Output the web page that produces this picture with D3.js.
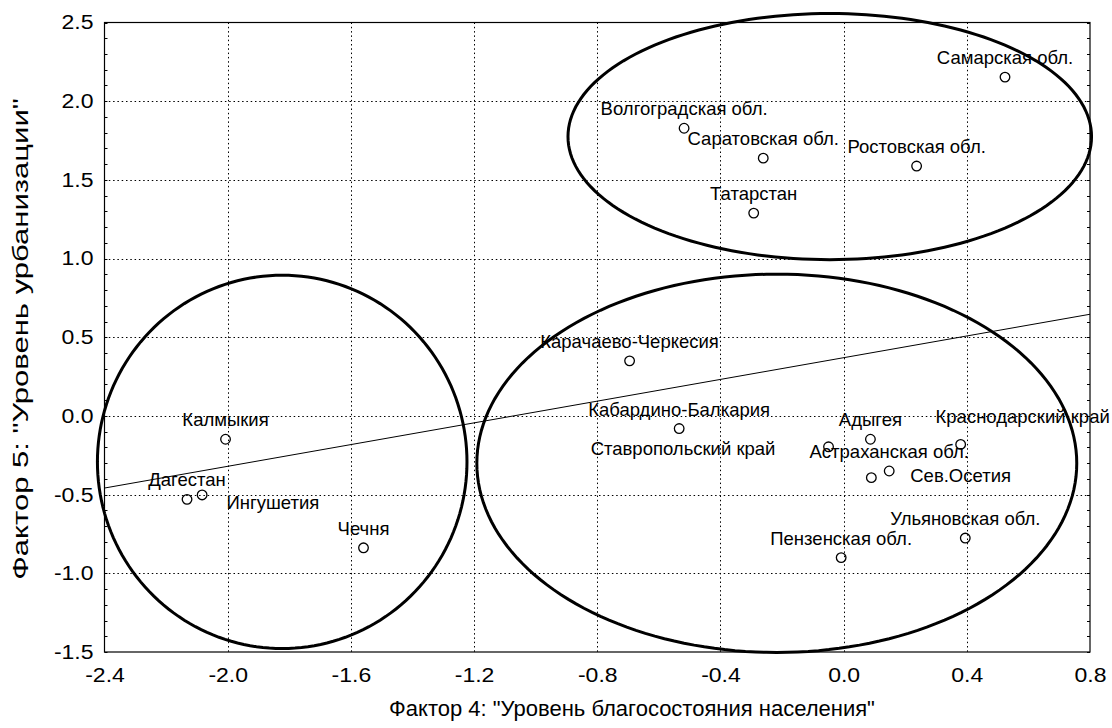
<!DOCTYPE html>
<html><head><meta charset="utf-8">
<script src="https://cdn.jsdelivr.net/npm/d3@7"></script>
<style>
html,body{margin:0;padding:0;background:#fff;}
text{font-family:"Liberation Sans",Arial,Helvetica,sans-serif;fill:#000;}
</style></head>
<body>
<svg id="chart" width="1112" height="728"></svg>
<script>
// ---- data ----
const regions = ["Самарская обл.","Волгоградская обл.","Саратовская обл.","Ростовская обл.","Татарстан",
  "Калмыкия","Дагестан","Ингушетия","Чечня",
  "Карачаево-Черкесия","Кабардино-Балкария","Ставропольский край","Адыгея","Сев.Осетия","Астраханская обл.",
  "Краснодарский край","Ульяновская обл.","Пензенская обл."];
const factor4 = [0.524,-0.518,-0.261,0.237,-0.292,
  -2.007,-2.132,-2.083,-1.559,
  -0.695,-0.534,-0.049,0.087,0.090,0.148,
  0.380,0.395,-0.008];
const factor5 = [2.153,1.828,1.638,1.588,1.289,
  -0.148,-0.530,-0.502,-0.838,
  0.350,-0.080,-0.196,-0.148,-0.392,-0.350,
  -0.181,-0.776,-0.900];
const xTicks = [-2.4,-2.0,-1.6,-1.2,-0.8,-0.4,0.0,0.4,0.8];
const yTicks = [-1.5,-1.0,-0.5,0.0,0.5,1.0,1.5,2.0,2.5];
// cluster ellipses (data units)
const ellipseCx = [-0.045,-1.823,-0.217];
const ellipseCy = [1.775,-0.292,-0.301];
const ellipseRx = [0.850,0.600,0.974];
const ellipseRy = [0.782,1.186,1.202];
const xTitle = 'Фактор 4: "Уровень благосостояния населения"';
const yTitle = 'Фактор 5: "Уровень урбанизации"';

// ---- layout (label nudges in px) ----
const labelDx = {"Ингушетия":70.7,"Ставропольский край":-145.5,"Сев.Осетия":89.3,"Краснодарский край":62};
const labelDy = {"Ингушетия":27,"Ставропольский край":21.3,"Сев.Осетия":17,"Краснодарский край":-8};

const svg = d3.select("#chart");
svg.append("rect").attr("width",1112).attr("height",728).attr("fill","#fff");
const L=104.5,R=1090,T=22.5,B=652;
const x = d3.scaleLinear().domain([-2.4,0.8]).range([L,R]);
const y = d3.scaleLinear().domain([-1.5,2.5]).range([B,T]);
const fmt = v => d3.format(".1f")(v).replace("−","-");
function stretch(sel, k){
  sel.each(function(){
    const w = this.getComputedTextLength();
    d3.select(this).attr("textLength", w*k).attr("lengthAdjust","spacingAndGlyphs");
  });
}

// grid
const grid = svg.append("g").attr("stroke","#000").attr("stroke-width",1).attr("stroke-dasharray","1.5,2.8");
grid.selectAll("line.gx").data(xTicks.slice(1,-1)).join("line")
  .attr("x1",d=>Math.round(x(d))+0.5).attr("x2",d=>Math.round(x(d))+0.5).attr("y1",T).attr("y2",B);
grid.selectAll("line.gy").data(yTicks.slice(1,-1)).join("line")
  .attr("y1",d=>Math.round(y(d))+0.5).attr("y2",d=>Math.round(y(d))+0.5).attr("x1",L).attr("x2",R);

// axes
const xAxis = d3.axisBottom(x).tickValues(xTicks).tickFormat(fmt).tickSize(0).tickPadding(16);
const yAxis = d3.axisLeft(y).tickValues(yTicks).tickFormat(fmt).tickSize(0).tickPadding(11);
const gx = svg.append("g").attr("transform",`translate(0,${B})`).call(xAxis);
const gy = svg.append("g").attr("transform",`translate(${L},0)`).call(yAxis);
[gx,gy].forEach(g=>{
  g.select(".domain").remove();
  g.selectAll("text").attr("font-size",20).attr("font-family","Liberation Sans, Arial, sans-serif");
  stretch(g.selectAll("text"), 1.15);
});

// minor ticks on y (inside, both sides)
const minor = y.ticks(40);
svg.append("g").attr("stroke","#000").attr("stroke-width",1).selectAll("line").data(minor).join("line")
  .attr("x1",L).attr("x2",L+3).attr("y1",d=>Math.round(y(d))+0.5).attr("y2",d=>Math.round(y(d))+0.5);
svg.append("g").attr("stroke","#000").attr("stroke-width",1).selectAll("line").data(minor).join("line")
  .attr("x1",R-3).attr("x2",R).attr("y1",d=>Math.round(y(d))+0.5).attr("y2",d=>Math.round(y(d))+0.5);

// frame
svg.append("rect").attr("x",L).attr("y",T).attr("width",R-L).attr("height",B-T)
  .attr("fill","none").attr("stroke","#000").attr("stroke-width",1.2);

// regression line (OLS from data)
const mx = d3.mean(factor4), my = d3.mean(factor5);
const sxy = d3.sum(factor4,(v,i)=>(v-mx)*(factor5[i]-my));
const sxx = d3.sum(factor4,v=>(v-mx)*(v-mx));
const slope = sxy/sxx, icpt = my - slope*mx;
svg.append("line").attr("x1",x(-2.4)).attr("y1",y(icpt+slope*-2.4)).attr("x2",x(0.8)).attr("y2",y(icpt+slope*0.8))
  .attr("stroke","#000").attr("stroke-width",1);

// ellipses
const ang = d3.range(0,361,2).map(a=>a*Math.PI/180);
const line = d3.line().curve(d3.curveLinearClosed);
ellipseCx.forEach((cx,i)=>{
  const pts = ang.map(a=>[x(cx+ellipseRx[i]*Math.cos(a)), y(ellipseCy[i]+ellipseRy[i]*Math.sin(a))]);
  svg.append("path").attr("d",line(pts)).attr("fill","none").attr("stroke","#000").attr("stroke-width",3);
});

// points
svg.append("g").selectAll("circle").data(regions).join("circle")
  .attr("cx",(d,i)=>x(factor4[i])).attr("cy",(d,i)=>y(factor5[i])).attr("r",4.8)
  .attr("fill","none").attr("stroke","#000").attr("stroke-width",1.3);

// labels
svg.append("g").selectAll("text").data(regions).join("text")
  .attr("x",(d,i)=>x(factor4[i])+(labelDx[d]||0))
  .attr("y",(d,i)=>y(factor5[i])-13+(labelDy[d]||0))
  .attr("text-anchor","middle").attr("font-size",18.5).text(d=>d);

// titles
svg.append("text").attr("x",632).attr("y",716).attr("text-anchor","middle").attr("font-size",22).text(xTitle);
const yt = svg.append("text").attr("transform","translate(28,339) rotate(-90)").attr("text-anchor","middle").attr("font-size",22).text(yTitle);
stretch(yt, 1.41);
</script>
</body></html>
